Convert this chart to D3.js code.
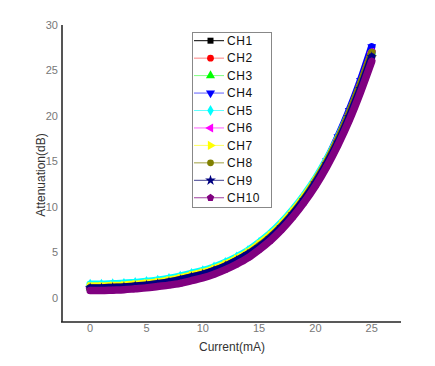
<!DOCTYPE html>
<html><head><meta charset="utf-8">
<script src="https://cdn.jsdelivr.net/npm/d3@7"></script>
<style>body{margin:0;background:#fff}</style>
</head><body><svg id="c" width="435" height="366"></svg>
<script>
const current = [0,1,2,3,4,5,6,7,8,9,10,11,12,13,14,15,16,17,18,19,20,21,22,23,24,25];
const channels = ["CH1","CH2","CH3","CH4","CH5","CH6","CH7","CH8","CH9","CH10"];
const ch1  = [1.1,1.1,1.15,1.2,1.3,1.4,1.55,1.75,2.0,2.3,2.6,3.0,3.5,4.1,4.8,5.7,6.7,7.9,9.3,10.9,12.8,14.9,17.4,20.2,23.4,27.0];
const ch2  = [1.1,1.1,1.15,1.2,1.3,1.4,1.55,1.75,2.0,2.3,2.6,3.0,3.5,4.1,4.8,5.7,6.7,7.9,9.3,10.9,12.8,15.0,17.5,20.3,23.5,27.1];
const ch3  = [1.1,1.1,1.15,1.2,1.3,1.4,1.55,1.75,2.0,2.3,2.6,3.0,3.5,4.1,4.8,5.7,6.7,7.9,9.3,10.9,12.8,14.9,17.4,20.2,23.4,27.0];
const ch4  = [1.1,1.1,1.15,1.2,1.3,1.4,1.55,1.75,2.0,2.3,2.6,3.0,3.5,4.1,4.8,5.7,6.7,7.9,9.4,11.0,12.9,15.1,17.7,20.6,23.9,27.6];
const ch5  = [1.5,1.5,1.55,1.6,1.7,1.8,1.95,2.15,2.4,2.7,3.0,3.4,3.9,4.5,5.2,6.1,7.1,8.3,9.7,11.3,13.1,15.2,17.6,20.3,23.4,26.8];
const ch6  = [1.1,1.1,1.15,1.2,1.3,1.4,1.55,1.75,2.0,2.3,2.6,3.0,3.5,4.1,4.8,5.7,6.7,7.9,9.3,10.9,12.8,14.9,17.4,20.2,23.4,27.0];
const ch7  = [1.3,1.3,1.35,1.4,1.5,1.6,1.75,1.95,2.2,2.5,2.8,3.2,3.7,4.3,5.0,5.9,6.9,8.1,9.5,11.1,12.9,15.0,17.4,20.1,23.2,26.6];
const ch8  = [1.1,1.1,1.15,1.2,1.3,1.4,1.55,1.75,2.0,2.3,2.6,3.0,3.5,4.1,4.8,5.7,6.7,7.9,9.3,10.9,12.8,14.9,17.4,20.3,23.5,27.0];
const ch9  = [1.1,1.1,1.15,1.2,1.3,1.4,1.55,1.75,2.0,2.3,2.6,3.0,3.5,4.1,4.8,5.6,6.6,7.8,9.2,10.8,12.6,14.7,17.1,19.9,23.0,26.5];
const ch10 = [0.8,0.8,0.85,0.9,1.0,1.1,1.25,1.4,1.6,1.9,2.2,2.6,3.1,3.7,4.4,5.3,6.3,7.5,8.9,10.5,12.3,14.4,16.8,19.5,22.6,26.0];
const seriesValues = [ch1,ch2,ch3,ch4,ch5,ch6,ch7,ch8,ch9,ch10];
const colors = ["#000000","#ff0000","#00ff00","#0000ff","#00ffff","#ff00ff","#ffff00","#808000","#000080","#800080"];
const lineColors = ["#000000","#ff8080","#80ff80","#6060ff","#60ffff","#ff60ff","#ffff60","#a0a040","#404090","#a040a0"];
const xTicks = [0,5,10,15,20,25];
const yTicks = [0,5,10,15,20,25,30];

const svg = d3.select("#c");
const x = d3.scaleLinear().domain([-2.5, 27.6]).range([62, 401]);
const y = d3.scaleLinear().domain([-2.65, 30]).range([322, 25]);

const pentagon = {draw(ctx, size){const r=Math.sqrt(size/2.38);for(let i=0;i<5;i++){const a=-Math.PI/2+i*2*Math.PI/5;const px=r*Math.cos(a),py=r*Math.sin(a);i?ctx.lineTo(px,py):ctx.moveTo(px,py);}ctx.closePath();}};
const symbols = [
  {t:d3.symbolSquare,rot:0},{t:d3.symbolCircle,rot:0},{t:d3.symbolTriangle,rot:0},{t:d3.symbolTriangle,rot:180},
  {t:d3.symbolDiamond,rot:0},{t:d3.symbolTriangle,rot:-90},{t:d3.symbolTriangle,rot:90},{t:d3.symbolCircle,rot:0},
  {t:d3.symbolStar,rot:0},{t:pentagon,rot:0}];

const line = d3.line().x(d=>x(d[0])).y(d=>y(d[1])).curve(d3.curveMonotoneX);
seriesValues.forEach((vals,i)=>{
  const pts = current.map((c,j)=>[c,vals[j]]);
  const g = svg.append("g");
  g.append("path").attr("d",line(pts)).attr("fill","none").attr("stroke",colors[i])
    .attr("stroke-width",7.5).attr("stroke-linecap","round").attr("stroke-linejoin","round");
  g.selectAll("path.m").data(pts).join("path").attr("class","m")
    .attr("d",d3.symbol().type(symbols[i].t).size(34))
    .attr("transform",d=>`translate(${x(d[0])},${y(d[1])}) rotate(${symbols[i].rot})`)
    .attr("fill",colors[i]);
});

svg.append("line").attr("x1",62).attr("x2",62).attr("y1",y(30)).attr("y2",322).attr("stroke","#555").attr("stroke-width",2);
svg.append("line").attr("x1",61).attr("x2",401).attr("y1",322).attr("y2",322).attr("stroke","#222").attr("stroke-width",1.5);
const tf = "'Liberation Sans Narrow','Liberation Sans',Arial,sans-serif";
svg.selectAll("text.yt").data(yTicks).join("text").attr("class","yt")
  .attr("x",58).attr("y",d=>y(d)+4).attr("text-anchor","end").attr("font-family",tf).attr("font-size",11).attr("fill","#777").text(d=>d);
svg.selectAll("text.xt").data(xTicks).join("text").attr("class","xt")
  .attr("x",d=>x(d)).attr("y",332).attr("text-anchor","middle").attr("font-family",tf).attr("font-size",11).attr("fill","#777").text(d=>d);
svg.append("text").attr("x",232).attr("y",351).attr("text-anchor","middle").attr("font-family","'Liberation Sans',Arial,sans-serif").attr("font-size",12).attr("fill","#333").text("Current(mA)");
svg.append("text").attr("transform","translate(45,175) rotate(-90)").attr("text-anchor","middle").attr("font-family","'Liberation Sans',Arial,sans-serif").attr("font-size",12).attr("fill","#333").text("Attenuation(dB)");

const lg = svg.append("g");
lg.append("rect").attr("x",192.5).attr("y",32.5).attr("width",79).attr("height",175).attr("fill","#fff").attr("stroke","#888");
channels.forEach((name,i)=>{
  const ly = 40.7 + i*17.45;
  lg.append("line").attr("x1",194).attr("x2",224).attr("y1",ly).attr("y2",ly).attr("stroke",lineColors[i]).attr("stroke-width",1);
  lg.append("path").attr("d",d3.symbol().type(symbols[i].t).size(36)).attr("transform",`translate(210.5,${ly}) rotate(${symbols[i].rot})`).attr("fill",colors[i]);
  lg.append("text").attr("x",227).attr("y",ly+4.3).attr("font-family","'Liberation Sans',Arial,sans-serif").attr("font-size",12).attr("fill","#111").attr("letter-spacing",0.6).text(name);
});
</script></body></html>
